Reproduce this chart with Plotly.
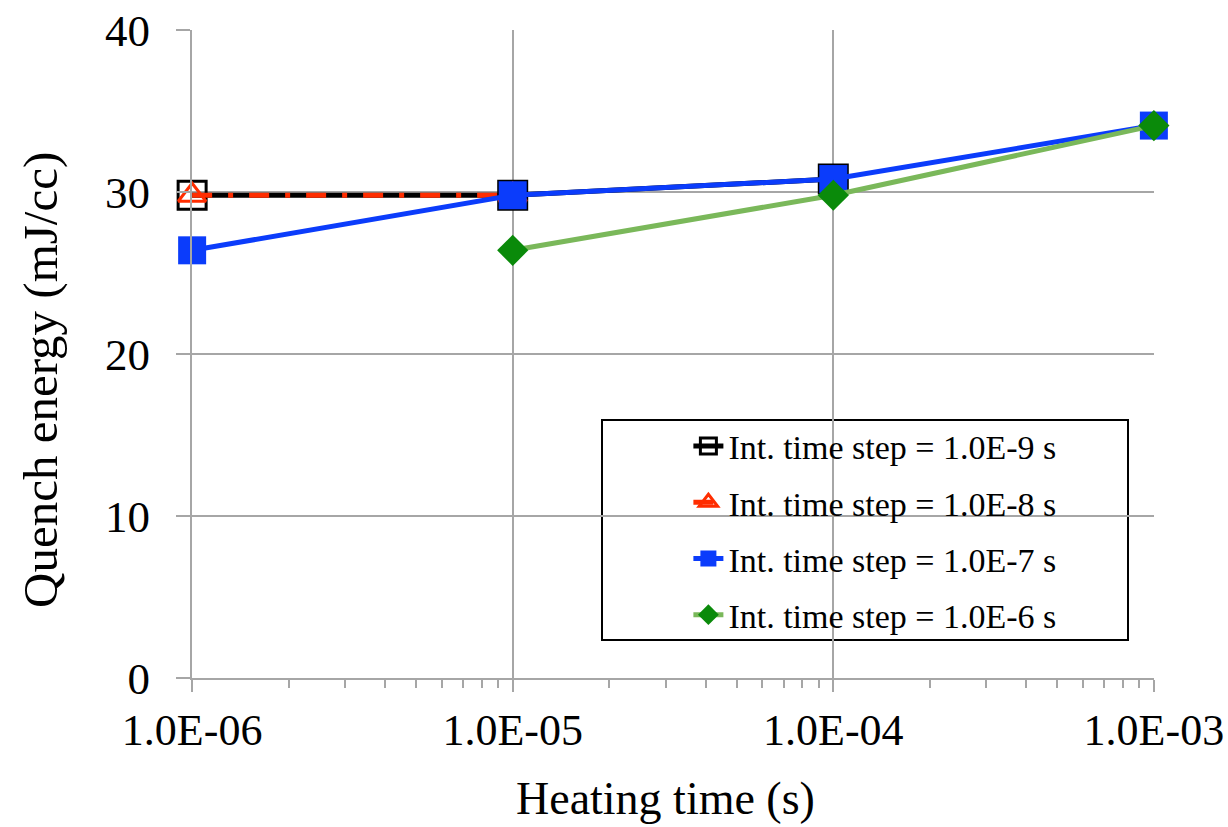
import plotly.graph_objects as go

heating_time = [1e-6, 1e-5, 1e-4, 1e-3]
tick_text_x = ["1.0E-06", "1.0E-05", "1.0E-04", "1.0E-03"]
y_ticks = [0, 10, 20, 30, 40]

x_dt9 = [1e-6, 1e-5, 1e-4]
q_dt9 = [29.8, 29.8, 30.8]
x_dt8 = [1e-6, 1e-5]
q_dt8 = [29.8, 29.8]
x_dt7 = [1e-6, 1e-5, 1e-4, 1e-3]
q_dt7 = [26.4, 29.8, 30.8, 34.1]
x_dt6 = [1e-5, 1e-4, 1e-3]
q_dt6 = [26.4, 29.8, 34.1]

names = ["Int. time step = 1.0E-9 s", "Int. time step = 1.0E-8 s",
         "Int. time step = 1.0E-7 s", "Int. time step = 1.0E-6 s"]
x_title = "Heating time (s)"
y_title = "Quench energy (mJ/cc)"

FONT = "Liberation Serif, Times New Roman, serif"
GRID = "#a6a6a6"

fig = go.Figure()
fig.add_trace(go.Scatter(
    x=x_dt9, y=q_dt9, name=names[0], legendgroup="a", mode="lines+markers",
    line=dict(color="black", width=5),
    marker=dict(symbol="square-open", size=28, color="black", line=dict(width=3, color="#222222")),
    cliponaxis=False))
fig.add_trace(go.Scatter(
    x=x_dt8, y=q_dt8, name=names[1], legendgroup="b", mode="lines+markers",
    line=dict(color="#ff2d00", width=5, dash="20px,16px,5px,16px"),
    marker=dict(symbol="triangle-up-open", size=24, color="#ff2d00", line=dict(width=3, color="#ff2d00")),
    cliponaxis=False))
fig.add_trace(go.Scatter(
    x=x_dt7, y=q_dt7, name=names[2], legendgroup="c", mode="lines+markers",
    line=dict(color="#0b3cfb", width=5),
    marker=dict(symbol="square", size=28, color="#0b3cfb", line=dict(width=0)),
    cliponaxis=False))
fig.add_trace(go.Scatter(
    x=x_dt6, y=q_dt6, name=names[3], legendgroup="d", mode="lines+markers",
    line=dict(color="#7ab85a", width=5),
    marker=dict(symbol="diamond", size=24, color="#0a8a0a", line=dict(width=0)),
    cliponaxis=False))

fig.update_layout(
    width=1228, height=827,
    margin=dict(l=192, r=74, t=30, b=149, autoexpand=False),
    paper_bgcolor="white", plot_bgcolor="white",
    font=dict(family=FONT, color="black", size=44),
    showlegend=True,
    legend=dict(
        x=0.516, y=0.402, xanchor="left", yanchor="top",
        bgcolor="rgba(0,0,0,0)", borderwidth=0,
        font=dict(family=FONT, size=34, color="black"),
        tracegroupgap=9,
    ),
    shapes=[dict(type="rect", xref="paper", yref="paper",
                 x0=(602 - 192) / 962, x1=(1128 - 192) / 962,
                 y0=(678 - 640) / 648, y1=(678 - 420) / 648,
                 line=dict(color="black", width=2), fillcolor="white", layer="below")],
    annotations=[
        dict(text=x_title, xref="paper", yref="paper",
             x=(665 - 192) / 962, y=(678 - 798) / 648,
             xanchor="center", yanchor="middle", showarrow=False,
             font=dict(size=46, family=FONT, color="black")),
        dict(text=y_title, xref="paper", yref="paper", textangle=-90,
             x=(40 - 192) / 962, y=(678 - 380) / 648,
             xanchor="center", yanchor="middle", showarrow=False,
             font=dict(size=49, family=FONT, color="black")),
    ],
)

fig.update_xaxes(
    type="log", range=[-6.0004, -2.9996],
    tickvals=heating_time, ticktext=tick_text_x,
    showgrid=True, gridcolor=GRID, gridwidth=2,
    showline=True, linecolor=GRID, linewidth=2,
    ticks="outside", ticklen=12, tickwidth=2, tickcolor=GRID,
    tickfont=dict(size=44, family=FONT),
    minor=dict(ticks="outside", ticklen=8, tickwidth=2, tickcolor=GRID, dtick="D1", showgrid=False),
    zeroline=False, automargin=False,
)
fig.update_yaxes(
    range=[0, 40], tickvals=y_ticks,
    showgrid=True, gridcolor=GRID, gridwidth=2,
    showline=True, linecolor=GRID, linewidth=2,
    ticks="outside", ticklen=14, tickwidth=2, tickcolor=GRID,
    ticklabelstandoff=17,
    tickfont=dict(size=45, family=FONT),
    zeroline=False, automargin=False,
)

fig.write_html("out.html")
